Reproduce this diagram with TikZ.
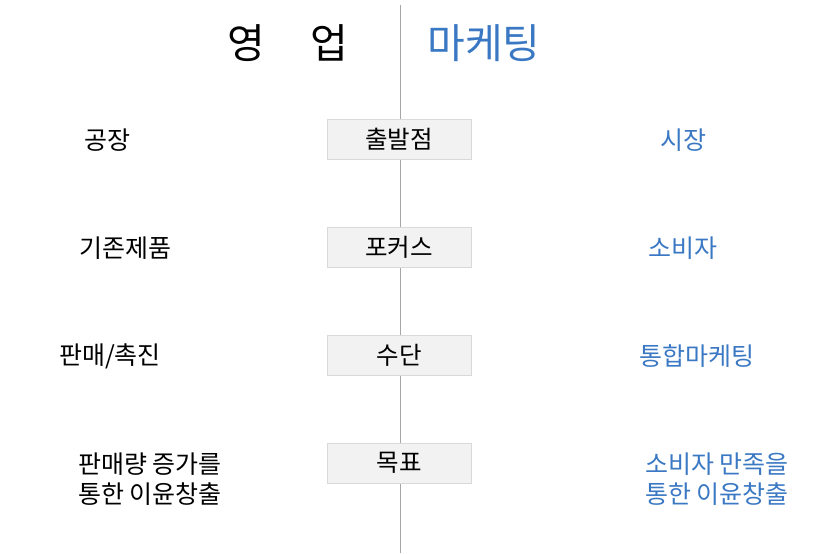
\documentclass[tikz,border=0pt]{standalone}
\usepackage{fontspec}
\newfontfamily\kor{Noto Sans CJK KR}
\usetikzlibrary{positioning}
\definecolor{mkblue}{HTML}{3A78C3}
\tikzset{
    axis/.style={draw=black!35,line width=1pt},
    stage/.style={draw=black!15,fill=black!5,line width=0.8pt,minimum width=144pt,minimum height=40pt,inner sep=0pt,font=\kor\fontsize{24.5}{28}\selectfont},
    sales/.style={align=center,text=black,font=\kor\fontsize{25}{30}\selectfont},
    mkt/.style={align=center,text=mkblue,font=\kor\fontsize{25}{30}\selectfont},
    head/.style={font=\kor\fontsize{41}{44}\selectfont}
}
\begin{document}
\begin{tikzpicture}[x=1pt,y=-1pt]
    \useasboundingbox (0,0) rectangle (822,554);
    \coordinate (top) at (400,5);
    \coordinate (bottom) at (400,553);
    \draw[axis] (top) -- (bottom);

    % headings
    \node[head] (hs) at (288,43) {영\hspace{1.1em}업};
    \node[head,text=mkblue] (hm) at (484,43) {마케팅};

    % middle boxes
    \node[stage] (s1) at (399,139) {출발점};
    \node[stage] (s2) at (399,247) {포커스};
    \node[stage] (s3) at (399,355) {수단};
    \node[stage] (s4) at (399,463) {목표};

    % sales side
    \node[sales] (a1) at (107,140) {공장};
    \node[sales] (a2) at (125,248) {기존제품};
    \node[sales] (a3) at (110,356) {판매/촉진};
    \node[sales] (a4) at (150,479) {판매량 증가를\\통한 이윤창출};

    % marketing side
    \node[mkt] (b1) at (683,140) {시장};
    \node[mkt] (b2) at (683,248) {소비자};
    \node[mkt] (b3) at (697,356) {통합마케팅};
    \node[mkt] (b4) at (717,479) {소비자 만족을\\통한 이윤창출};
\end{tikzpicture}
\end{document}
